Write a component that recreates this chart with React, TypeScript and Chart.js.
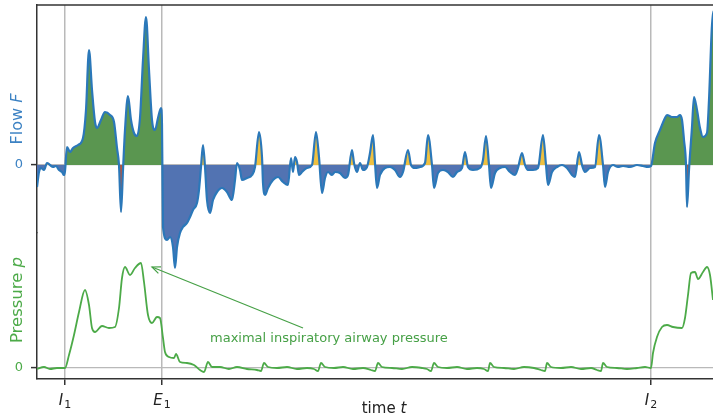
import React, { useEffect, useRef } from "react";
import { Chart, registerables } from "chart.js";

Chart.register(...registerables);

// ---- data (time in arbitrary units, flow / pressure in arbitrary units) ----
const flowTime = [
  0, 2, 4, 7, 10, 13, 16, 19, 22, 25, 27, 28,
  30, 33, 36, 41, 46, 49, 52, 55, 58, 60, 64, 68,
  73, 77, 80, 82, 84, 86, 88, 91, 94, 97, 100, 103,
  106, 109, 112, 115, 118, 121, 124, 125, 126, 130, 133, 136,
  138, 140, 143, 146, 150, 153, 156, 160, 162, 164, 166, 168,
  170, 173, 176, 180, 185, 190, 195, 198, 200, 203, 205, 210,
  215, 218, 222, 225, 226, 228, 231, 236, 241, 246, 251, 254,
  256, 258, 260, 262, 265, 270, 275, 279, 282, 285, 288, 291,
  295, 298, 303, 308, 311, 315, 317, 320, 323, 326, 330, 333,
  336, 338, 340, 343, 348, 353, 358, 363, 366, 371, 374, 378,
  383, 388, 391, 395, 397, 401, 406, 411, 416, 420, 425, 428,
  431, 436, 443, 446, 449, 452, 454, 458, 463, 468, 473, 478,
  481, 485, 488, 491, 496, 501, 506, 509, 511, 515, 520, 525,
  530, 535, 538, 542, 545, 548, 553, 558, 562, 566, 568, 571,
  576, 581, 586, 593, 600, 606, 611, 614, 618, 623, 628, 630,
  635, 640, 643, 645, 647, 649, 650, 652, 655, 657, 660, 663,
  666, 670, 672, 675, 678, 681,
];
const flowValues = [
  -22, -7, -3, -5, 2, 0, -2, -1, -5, -7, -10, -6,
  18, 13, 17, 20, 27, 55, 115, 75, 43, 37, 45, 53,
  50, 43, 17, 0, -47, -5, 35, 69, 45, 32, 29, 47,
  105, 148, 95, 45, 35, 47, 57, 40, -62, -75, -72, -82,
  -103, -82, -68, -62, -58, -52, -45, -38, -25, -2, 20, -2,
  -35, -48, -35, -27, -23, -27, -35, -15, 2, -5, -15, -13,
  -10, -2, 33, 8, -18, -30, -23, -15, -12, -17, -20, 7,
  -7, 8, 3, -10, -7, -3, 0, 33, 8, -28, -13, -7,
  -10, -7, -8, -13, -10, 15, 2, -7, 2, -5, -2, 12,
  30, 2, -23, -10, -3, -2, -5, -12, -7, 15, 0, -3,
  -2, 2, 30, 0, -23, -8, -5, -7, -12, -7, -3, 13,
  -2, -5, -3, 5, 29, 0, -23, -8, -3, -2, -7, -10,
  -3, 12, 0, -5, -5, -3, 30, 0, -20, -7, -2, 0,
  -3, -10, -12, 13, 0, -7, -3, -2, 30, 0, -22, -7,
  0, -2, -1, -2, 0, -1, -2, -1, 22, 35, 47, 50,
  48, 48, 50, 45, 25, 0, -42, -5, 38, 68, 55, 37,
  28, 32, 65, 140, 155, 105,
];

const pressureTime = [
  0, 7, 13, 20, 28, 32, 37, 42, 48, 52, 55, 58,
  65, 72, 78, 82, 85, 88, 93, 98, 104, 107, 111, 115,
  120, 123, 126, 128, 132, 137, 139, 143, 150, 157, 163, 167,
  171, 175, 183, 192, 200, 210, 220, 224, 227, 231, 240, 250,
  260, 270, 277, 281, 284, 288, 297, 306, 316, 326, 334, 338,
  341, 345, 355, 365, 375, 385, 390, 394, 397, 401, 410, 420,
  430, 440, 447, 451, 453, 457, 467, 477, 487, 497, 504, 508,
  510, 514, 524, 534, 544, 554, 560, 564, 566, 570, 580, 590,
  600, 608, 614, 616, 620, 625, 630, 636, 645, 648, 651, 654,
  658, 661, 666, 670, 673, 676, 679,
];
const pressureValues = [
  -1, 1, -1, 0, 0, 13, 33, 56, 78, 63, 40, 36,
  42, 40, 41, 60, 90, 101, 93, 100, 105, 86, 53, 45,
  51, 50, 30, 16, 11, 10, 14, 6, 5, 3, -2, -4,
  6, 1, 1, -1, 1, -1, -2, -3, 5, 1, 0, 1,
  -1, 0, -1, -3, 5, 1, 0, 1, -1, 0, -2, -3,
  5, 1, 0, -1, 1, 0, -1, -3, 5, 1, 0, 1,
  -1, 0, -1, -3, 5, 1, 0, -1, 1, 0, -2, -3,
  5, 1, 0, 1, -1, 0, -2, -3, 5, 1, 0, -1,
  0, 1, 0, 15, 31, 41, 43, 41, 40, 50, 73, 95,
  96, 89, 96, 101, 93, 68, 43,
];

const phaseTimes = [28, 125, 614]; // I1, E1, I2
const phaseLetters = ["I", "E", "I"];
const phaseSubscripts = ["1", "1", "2"];
const annotationText = "maximal inspiratory airway pressure";
const annotationTip = [115, 101]; // time, pressure (peak)
const annotationTail = [266, 40];
const annotationTextAt = [173, 29];

// ---- styles ----
const FONT = "DejaVu Sans";
const SPINE = "#333333";
const GRID = "rgb(185,185,185)";
const FLOW_LINE = "rgb(43,120,185)";
const FLOW_TEXT = "rgb(60,130,195)";
const PRESS_LINE = "rgb(76,170,72)";
const PRESS_TEXT = "rgb(76,170,72)";
const GREEN = "rgb(90,150,80)";
const RED = "rgb(180,85,65)";
const BLUE = "rgb(82,115,178)";
const YELLOW = "rgb(238,192,64)";

const [I1, E1, I2] = phaseTimes;
const isInsp = (t: number) => (t >= I1 && t <= E1) || t >= I2;
const isExp = (t: number) => t <= I1 || (t >= E1 && t <= I2);

const flowPoints = flowTime.map((t, i) => ({ x: t, y: flowValues[i] }));
const inspPoints = flowTime.map((t, i) => ({ x: t, y: isInsp(t) ? flowValues[i] : null }));
const expPoints = flowTime.map((t, i) => ({ x: t, y: isExp(t) ? flowValues[i] : null }));
const pressPoints = pressureTime.map((t, i) => ({ x: t, y: pressureValues[i] }));

const decorations = {
  id: "decorations",
  afterDraw(chart: any) {
    const { ctx, chartArea: a, scales } = chart;
    const xs = scales.x;
    const fs = scales.y;
    const ps = scales.p;
    ctx.save();

    // top spine
    ctx.strokeStyle = SPINE;
    ctx.lineWidth = 1.5;
    ctx.beginPath();
    ctx.moveTo(a.left - 0.75, a.top);
    ctx.lineTo(a.right, a.top);
    ctx.stroke();

    const drawVertical = (cx: number, cy: number, parts: [string, string][], color: string) => {
      ctx.save();
      ctx.translate(cx, cy);
      ctx.rotate(-Math.PI / 2);
      ctx.fillStyle = color;
      ctx.textBaseline = "middle";
      ctx.textAlign = "left";
      let total = 0;
      const widths = parts.map(([txt, font]) => {
        ctx.font = font;
        const w = ctx.measureText(txt).width;
        total += w;
        return w;
      });
      let pos = -total / 2;
      parts.forEach(([txt, font], i) => {
        ctx.font = font;
        ctx.fillText(txt, pos, 0);
        pos += widths[i];
      });
      ctx.restore();
    };

    drawVertical(18, (fs.top + fs.bottom) / 2, [["Flow ", `16px ${FONT}`], ["F", `italic 16px ${FONT}`]], FLOW_TEXT);
    drawVertical(18, (ps.top + ps.bottom) / 2 - 6, [["Pressure ", `16.5px ${FONT}`], ["p", `italic 16.5px ${FONT}`]], PRESS_TEXT);

    // x tick labels with subscripts
    ctx.fillStyle = "#222";
    ctx.textAlign = "left";
    ctx.textBaseline = "alphabetic";
    phaseTimes.forEach((t, i) => {
      const cx = xs.getPixelForValue(t);
      ctx.font = `italic 15px ${FONT}`;
      const w1 = ctx.measureText(phaseLetters[i]).width;
      ctx.font = `11px ${FONT}`;
      const w2 = ctx.measureText(phaseSubscripts[i]).width;
      const sx = cx - (w1 + w2 + 1) / 2;
      ctx.font = `italic 15px ${FONT}`;
      ctx.fillText(phaseLetters[i], sx, a.bottom + 26);
      ctx.font = `11px ${FONT}`;
      ctx.fillText(phaseSubscripts[i], sx + w1 + 1, a.bottom + 29);
    });

    // x title "time t"
    ctx.font = `15px ${FONT}`;
    const tw1 = ctx.measureText("time ").width;
    ctx.font = `italic 15px ${FONT}`;
    const tw2 = ctx.measureText("t").width;
    const tcx = xs.getPixelForValue(347);
    ctx.font = `15px ${FONT}`;
    ctx.fillText("time ", tcx - (tw1 + tw2) / 2, a.bottom + 34);
    ctx.font = `italic 15px ${FONT}`;
    ctx.fillText("t", tcx - (tw1 + tw2) / 2 + tw1, a.bottom + 34);

    // annotation arrow
    const tipX = xs.getPixelForValue(annotationTip[0]);
    const tipY = ps.getPixelForValue(annotationTip[1]);
    const tailX = xs.getPixelForValue(annotationTail[0]);
    const tailY = ps.getPixelForValue(annotationTail[1]);
    ctx.strokeStyle = "rgb(70,160,70)";
    ctx.lineWidth = 1.2;
    ctx.beginPath();
    ctx.moveTo(tailX, tailY);
    ctx.lineTo(tipX, tipY);
    ctx.stroke();
    const ang = Math.atan2(tailY - tipY, tailX - tipX);
    const hl = 9;
    ctx.beginPath();
    ctx.moveTo(tipX + hl * Math.cos(ang + 0.4), tipY + hl * Math.sin(ang + 0.4));
    ctx.lineTo(tipX, tipY);
    ctx.lineTo(tipX + hl * Math.cos(ang - 0.4), tipY + hl * Math.sin(ang - 0.4));
    ctx.stroke();

    ctx.fillStyle = "rgb(70,160,70)";
    ctx.font = `13px ${FONT}`;
    ctx.textBaseline = "middle";
    ctx.fillText(annotationText, xs.getPixelForValue(annotationTextAt[0]), ps.getPixelForValue(annotationTextAt[1]));

    ctx.restore();
  },
};

export default function App() {
  const ref = useRef<HTMLCanvasElement>(null);

  useEffect(() => {
    if (!ref.current) return;
    Chart.defaults.font.family = FONT;
    const chart = new Chart(ref.current, {
      type: "line",
      data: {
        datasets: [
          {
            label: "flow",
            data: flowPoints as any,
            yAxisID: "y",
            borderColor: FLOW_LINE,
            borderWidth: 2.2,
            pointRadius: 0,
            fill: false,
            cubicInterpolationMode: "monotone",
          },
          {
            label: "pressure",
            data: pressPoints as any,
            yAxisID: "p",
            borderColor: PRESS_LINE,
            borderWidth: 1.8,
            pointRadius: 0,
            fill: false,
            cubicInterpolationMode: "monotone",
          },
          {
            label: "insp fill",
            data: inspPoints as any,
            yAxisID: "y",
            borderColor: "transparent",
            borderWidth: 0,
            pointRadius: 0,
            spanGaps: false,
            cubicInterpolationMode: "monotone",
            fill: { target: "origin", above: GREEN, below: RED },
          },
          {
            label: "exp fill",
            data: expPoints as any,
            yAxisID: "y",
            borderColor: "transparent",
            borderWidth: 0,
            pointRadius: 0,
            spanGaps: false,
            cubicInterpolationMode: "monotone",
            fill: { target: "origin", above: YELLOW, below: BLUE },
          },
        ],
      },
      options: {
        animation: false,
        responsive: true,
        maintainAspectRatio: false,
        events: [],
        layout: { padding: { top: 5, left: 0, right: 0, bottom: 0 } },
        plugins: { legend: { display: false }, tooltip: { enabled: false } },
        scales: {
          x: {
            type: "linear",
            position: "bottom",
            min: 0,
            max: 676,
            afterBuildTicks: (s: any) => {
              s.ticks = phaseTimes.map((v) => ({ value: v }));
            },
            afterFit: (s: any) => {
              s.height = 38;
              s.paddingLeft = 0;
              s.paddingRight = 0;
            },
            ticks: { display: false, autoSkip: false },
            grid: { color: GRID, lineWidth: 1.5, tickColor: SPINE, tickLength: 6, tickWidth: 1.5 },
            border: { display: true, color: SPINE, width: 1.5 },
          },
          y: {
            type: "linear",
            position: "left",
            stack: "left",
            stackWeight: 228,
            weight: 2,
            min: -68,
            max: 160,
            clip: false,
            afterBuildTicks: (s: any) => {
              s.ticks = [{ value: 0 }];
            },
            afterFit: (s: any) => {
              s.width = 37;
              s.paddingTop = 0;
              s.paddingBottom = 0;
            },
            ticks: { color: FLOW_TEXT, font: { size: 13, family: FONT }, padding: 8, callback: () => "0" },
            grid: { color: GRID, lineWidth: 1.2, tickColor: SPINE, tickLength: 6, tickWidth: 1.5 },
            border: { display: true, color: SPINE, width: 1.5 },
          },
          p: {
            type: "linear",
            position: "left",
            stack: "left",
            stackWeight: 146,
            weight: 1,
            min: -11,
            max: 135,
            clip: false,
            afterBuildTicks: (s: any) => {
              s.ticks = [{ value: 0 }];
            },
            afterFit: (s: any) => {
              s.width = 37;
              s.paddingTop = 0;
              s.paddingBottom = 0;
            },
            ticks: { color: PRESS_TEXT, font: { size: 13, family: FONT }, padding: 8, callback: () => "0" },
            grid: { color: GRID, lineWidth: 1.2, tickColor: SPINE, tickLength: 6, tickWidth: 1.5 },
            border: { display: true, color: SPINE, width: 1.5 },
          },
        } as any,
      },
      plugins: [decorations],
    });
    return () => chart.destroy();
  }, []);

  return (
    <div style={{ position: "fixed", left: 0, top: 0, width: 713, height: 417 }}>
      <canvas ref={ref} />
    </div>
  );
}
